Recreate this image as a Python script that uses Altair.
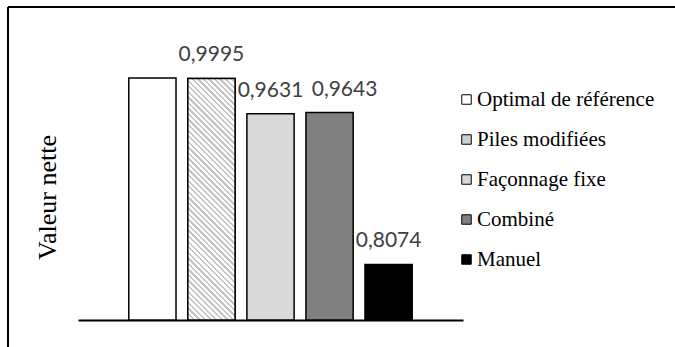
import altair as alt
import pandas as pd

# Net value of each storage strategy
series = ["Optimal de référence", "Piles modifiées", "Façonnage fixe", "Combiné", "Manuel"]
values = [1.0, 0.9995, 0.9631, 0.9643, 0.8074]
show_label = [False, True, True, True, True]
fills = ["#ffffff", "#d0d0d0", "#d9d9d9", "#808080", "#000000"]

df = pd.DataFrame({"serie": series, "valeur": values, "etiquette": show_label})

W, H = 385, 242
Y_MIN, Y_MAX = 0.75, 1.0
PAD_IN, PAD_OUT = 0.2, 0.86
SERIF = "'Times New Roman', 'Liberation Serif', serif"

x_enc = alt.X(
    "serie:N",
    sort=series,
    scale=alt.Scale(paddingInner=PAD_IN, paddingOuter=PAD_OUT),
    axis=alt.Axis(labels=False, ticks=False, title=None, domainColor="black", domainWidth=2),
)
y_enc = alt.Y(
    "valeur:Q",
    scale=alt.Scale(domain=[Y_MIN, Y_MAX], zero=False, nice=False),
    axis=alt.Axis(
        labels=False, ticks=False, domain=False, grid=False,
        title="Valeur nette", titleFont=SERIF, titleFontSize=26,
        titleFontWeight="normal", titleColor="black", titleY=119, titleX=-23,
        titleAlign="center", titleBaseline="alphabetic", titleAngle=-90,
    ),
)

bars = alt.Chart(df).mark_bar(stroke="black", strokeWidth=1.5).encode(
    x=x_enc,
    y=y_enc,
    y2=alt.Y2(datum=Y_MIN),
    fill=alt.Fill(
        "serie:N",
        sort=series,
        scale=alt.Scale(domain=series, range=fills),
        legend=alt.Legend(
            title=None, orient="none", legendX=378, legendY=11,
            symbolType="square", symbolSize=90, symbolStrokeColor="black",
            symbolStrokeWidth=1, labelFont=SERIF, labelFontSize=21,
            labelColor="black", rowPadding=18, labelOffset=0, labelLimit=300,
        ),
    ),
)

# Diagonal hatching for the "Piles modifiées" bar, built as a striped gradient
step = W / (len(series) - PAD_IN + 2 * PAD_OUT)
bw = step * (1 - PAD_IN)
bh = H * (values[1] - Y_MIN) / (Y_MAX - Y_MIN)
span = bw + bh
s = span / (bw ** 2 + bh ** 2)
n_stripes = 52
stops = []
for i in range(n_stripes):
    a, m, b = i / n_stripes, (i + 0.42) / n_stripes, (i + 1) / n_stripes
    stops += [
        alt.GradientStop(color="#c4c4c4", offset=a),
        alt.GradientStop(color="#c4c4c4", offset=m),
        alt.GradientStop(color="#ffffff", offset=m),
        alt.GradientStop(color="#ffffff", offset=b),
    ]
hatch = alt.Gradient(gradient="linear", stops=stops, x1=0, y1=1, x2=s * bw, y2=1 - s * bh)

hatched = alt.Chart(df).transform_filter(
    alt.datum.serie == "Piles modifiées"
).mark_bar(stroke="black", strokeWidth=1.5, fill=hatch).encode(
    x=alt.X("serie:N", sort=series), y="valeur:Q", y2=alt.Y2(datum=Y_MIN)
)

label_base = alt.Chart(df).transform_filter(
    alt.datum.etiquette
).transform_calculate(
    txt="replace(format(datum.valeur, '.4f'), '.', ',')"
)
label_style = dict(font="Lato", fontSize=21, color="#404040", baseline="bottom", dy=-13)
label_enc = dict(x=alt.X("serie:N", sort=series), y="valeur:Q", text="txt:N")

labels = label_base.transform_filter(
    alt.datum.serie != "Combiné"
).mark_text(**label_style).encode(**label_enc)

# The "Combiné" label is nudged right so it clears its neighbour
labels_shifted = label_base.transform_filter(
    alt.datum.serie == "Combiné"
).mark_text(dx=15, **label_style).encode(**label_enc)

# Outer frame lines (top and left)
frame_top = alt.Chart(df).mark_rule(color="black", strokeWidth=2).encode(
    x=alt.value(-70), x2=alt.value(600), y=alt.value(-71)
)
frame_left = alt.Chart(df).mark_rule(color="black", strokeWidth=2).encode(
    x=alt.value(-70), y=alt.value(-71), y2=alt.value(280)
)

chart = alt.layer(bars, hatched, labels, labels_shifted, frame_top, frame_left).properties(
    width=W, height=H,
    autosize=alt.AutoSizeParams(type="none"),
    padding={"left": 78, "top": 78, "right": 212, "bottom": 27},
).configure(
    font=SERIF,
).configure_view(stroke=None).configure_legend(
    labelFont=SERIF, labelFontSize=21, labelColor="black"
)

chart.save("out.html", embed_options={"renderer": "svg", "actions": False})
